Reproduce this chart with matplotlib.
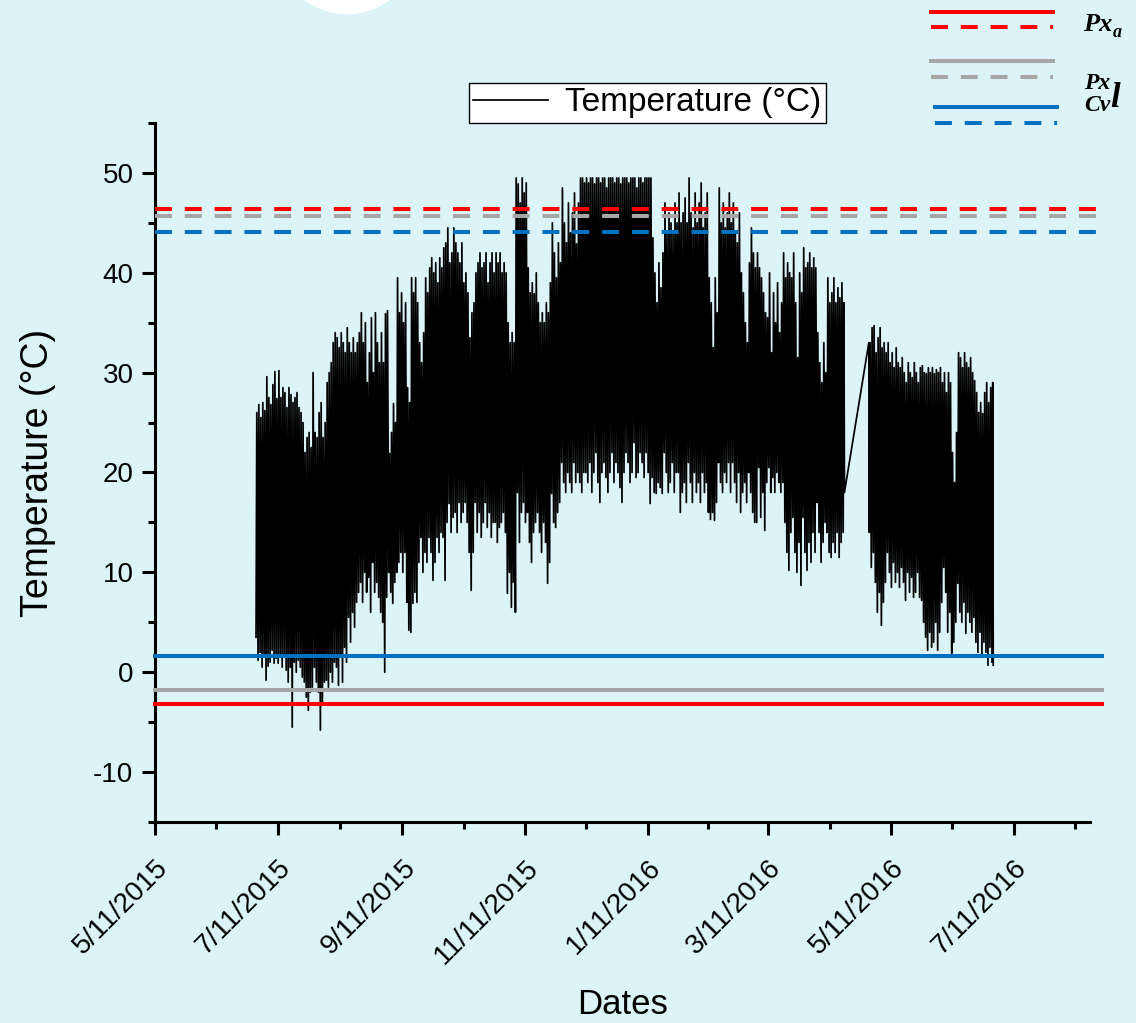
import numpy as np
import matplotlib
matplotlib.use("Agg")
import matplotlib.pyplot as plt
import matplotlib.dates as mdates
from matplotlib.ticker import MultipleLocator, FixedLocator, FuncFormatter
from matplotlib.lines import Line2D
from matplotlib.patches import Circle
from matplotlib.transforms import IdentityTransform

# daily max / min temperature (°C)
# segment 1 starts 2015-06-30, one value per day
seg1_start = np.datetime64("2015-06-30")
hi1 = (
    [26.0, 26.8, 25.5, 27.0, 26.2, 29.6, 27.5, 26.8, 28.8, 30.1, 27.4]  # jun30-jul10
    + [30.2, 27.5, 28.5, 28.0, 26.5, 28.5, 27.8, 27.0, 27.5, 28.0, 26.5, 26.0, 25.0, 22.0, 23.5, 24.0,
       22.5, 30.0, 24.0, 23.5, 26.0, 27.0, 23.5, 25.0, 29.0, 30.0, 31.0, 33.0, 34.0, 33.5, 32.5]
    + [34.0, 33.0, 32.0, 34.5, 33.0, 32.0, 33.5, 32.0, 33.0, 34.0, 36.0, 33.0, 35.0, 29.0, 32.0, 35.5,
       30.0, 36.0, 33.0, 31.0, 34.0, 31.0, 35.9, 36.2, 21.9, 24.0, 26.9, 25.0, 39.5, 36.0, 38.0]
    + [35.0, 37.0, 28.5, 27.0, 39.5, 38.0, 39.5, 37.0, 33.0, 31.0, 34.0, 39.5, 38.0, 40.5, 41.5,
       40.0, 41.0, 39.0, 41.5, 40.5, 42.5, 43.0, 44.5, 41.0, 42.0, 44.5, 43.0, 42.0, 41.0, 43.0]
    + [39.0, 40.0, 38.0, 33.5, 36.0, 37.0, 40.0, 41.0, 42.0, 40.5, 41.0, 42.0, 39.0, 41.0, 42.0, 40.0,
       42.0, 41.0, 42.0, 40.0, 41.0, 40.0, 35.0, 33.0, 34.0, 33.0, 49.5, 48.9, 47.0, 49.5, 48.0]
    + [49.0, 40.5, 38.0, 39.0, 37.9, 40.0, 37.0, 35.0, 36.0, 35.0, 37.0, 36.0, 39.0, 45.0, 42.0,
       39.5, 43.0, 41.0, 48.5, 45.0, 43.0, 47.0, 44.0, 46.0, 48.0, 42.9, 47.0, 49.5, 49.5, 49.0]
    + [49.5, 49.0, 49.5, 49.5, 48.9, 49.5, 49.5, 49.0, 49.5, 49.5, 48.5, 49.5, 49.5, 49.5, 49.0, 49.5,
       49.5, 48.9, 49.5, 49.5, 49.5, 49.0, 49.5, 49.5, 49.5, 48.5, 49.5, 49.5, 49.0, 49.5, 49.5]
    + [49.5, 49.5, 43.5, 40.0, 37.0, 41.0, 38.5, 42.0, 47.0, 44.0, 46.0, 45.0, 44.0, 47.0, 45.0, 48.0,
       45.0, 46.0, 47.5, 45.0, 49.5, 46.0, 44.5, 48.0, 45.0, 47.0, 49.0, 44.5, 46.0, 48.0, 39.5]
    + [37.0, 32.5, 39.5, 36.0, 48.5, 45.0, 47.0, 44.5, 46.0, 48.0, 45.0, 47.0, 44.0, 43.0, 46.0,
       40.0, 38.0, 35.0, 33.0, 41.0, 44.5, 42.0, 40.5, 42.0, 40.5, 39.5, 38.0, 36.0, 35.5]
    + [40.0, 32.0, 38.0, 35.0, 39.0, 34.0, 37.0, 42.0, 39.5, 41.0, 40.0, 39.5, 42.0, 37.0, 31.5, 40.0,
       38.0, 42.5, 40.5, 41.0, 42.0, 40.5, 41.5, 40.5, 34.0, 31.0, 29.0, 33.0, 30.0, 39.5, 37.0]
    + [38.0, 39.5, 37.0, 38.5, 37.5, 39.0, 37.0]  # apr11-apr17
)
lo1 = (
    [3.5, 1.2, 2.0, 0.5, 1.5, -0.8, 0.6, 1.0, 2.2, 0.9, 1.4]
    + [0.9, 1.5, 0.5, 1.8, 0.2, -1.0, 0.5, -5.5, 1.0, 0.0, 1.2, 0.5, -0.5, -1.0, -2.5, -3.8,
       -2.0, -1.5, 0.5, -1.0, -2.0, -5.8, -3.0, -1.0, -0.8, -1.5, 0.0, -1.0, 1.0, 0.5, -1.3]
    + [1.5, -1.0, 2.5, 1.0, 5.5, 3.0, 6.0, 4.5, 7.0, 8.0, 9.0, 7.0, 10.0, 8.0, 9.5, 6.0,
       11.0, 8.0, 9.0, 7.5, 6.0, 5.0, 0.0, 7.5, 10.0, 8.0, 6.9, 9.0, 10.0, 11.0, 12.0]
    + [10.0, 12.0, 7.0, 4.2, 4.0, 6.9, 8.0, 7.0, 11.0, 13.5, 10.0, 12.0, 11.0, 13.5, 12.0,
       9.2, 11.0, 13.5, 12.0, 14.0, 13.5, 9.2, 15.0, 16.9, 14.0, 15.5, 16.0, 14.0, 17.0, 15.0]
    + [16.0, 17.0, 15.0, 12.0, 8.2, 12.0, 17.0, 14.0, 16.0, 13.5, 15.0, 17.0, 14.5, 16.0, 13.5, 15.0,
       15.0, 13.0, 14.5, 15.0, 16.0, 14.0, 7.9, 10.0, 6.5, 9.0, 6.0, 18.0, 13.0, 16.0, 17.0]
    + [15.0, 16.0, 13.0, 11.0, 14.0, 15.0, 16.0, 14.0, 12.0, 15.0, 13.0, 8.9, 11.0, 17.9, 15.0,
       14.5, 16.0, 17.0, 21.0, 19.0, 18.0, 20.0, 19.0, 18.0, 21.0, 19.0, 20.0, 19.0, 18.0, 20.0]
    + [20.0, 19.0, 21.0, 18.0, 20.0, 22.0, 19.0, 17.0, 20.0, 21.0, 19.5, 18.0, 20.0, 22.0, 19.0, 21.0,
       20.0, 18.5, 17.0, 20.0, 22.0, 21.0, 19.0, 20.0, 23.0, 19.5, 20.0, 22.0, 21.0, 19.5, 22.0]
    + [20.0, 16.9, 19.5, 18.0, 17.9, 19.0, 18.5, 17.9, 22.0, 20.0, 18.0, 19.0, 21.0, 18.0, 20.0, 20.0,
       16.0, 18.0, 19.0, 17.0, 21.0, 19.0, 17.0, 20.0, 18.0, 19.0, 17.0, 20.0, 18.0, 19.0, 16.0]
    + [15.3, 16.0, 15.2, 17.0, 21.0, 19.0, 18.0, 20.0, 19.0, 21.0, 18.0, 21.0, 19.0, 17.0, 20.0,
       16.0, 18.0, 19.0, 17.0, 20.0, 18.0, 16.0, 15.0, 15.0, 20.5, 15.5, 18.0, 14.2, 19.0]
    + [20.5, 18.0, 19.5, 18.0, 20.0, 19.0, 18.0, 19.0, 15.0, 12.0, 10.2, 14.0, 15.5, 12.0, 10.0, 13.0,
       8.7, 15.5, 12.0, 10.2, 13.0, 11.0, 14.0, 12.0, 17.0, 14.0, 11.0, 13.0, 15.0, 14.0, 12.0]
    + [11.5, 13.0, 12.0, 14.0, 11.5, 13.0, 14.0]
)
seg1_tail = 18.0

# segment 2 (after the logger gap) starts 2016-04-30
seg2_start = np.datetime64("2016-04-30")
seg2_head = 33.0
hi2 = [33.0, 34.5, 34.7, 32.0, 33.5, 34.5, 32.5, 33.0, 32.0, 33.0, 31.0, 32.0, 30.5, 32.5, 31.0, 30.5,
       31.5, 30.0, 29.0, 31.0, 30.0, 29.5, 31.0, 30.0, 29.0, 30.5, 30.7, 30.0, 29.9, 30.5, 30.0, 30.5,
       29.9, 30.3, 30.0, 30.5, 29.0, 30.0, 28.0, 30.0, 29.0, 22.0, 19.0, 24.0, 32.0, 31.5, 30.5, 32.0,
       31.0, 30.5, 31.5, 30.0, 29.2, 28.0, 26.0, 27.0, 25.9, 28.0, 29.0, 27.0, 28.5, 29.0]
lo2 = [14.0, 10.5, 12.0, 9.0, 6.0, 8.0, 4.7, 7.0, 9.0, 12.0, 10.0, 8.5, 11.0, 9.0, 10.0, 8.5,
       10.5, 9.0, 7.2, 10.0, 8.0, 9.5, 7.5, 8.0, 10.0, 7.5, 7.2, 5.0, 3.5, 2.2, 4.0, 2.5,
       3.0, 5.0, 2.2, 4.0, 7.0, 10.5, 8.0, 4.0, 6.0, 1.9, 3.0, 5.0, 8.9, 6.0, 5.0, 7.0,
       3.9, 6.0, 5.0, 4.0, 5.5, 3.0, 2.0, 4.0, 1.5, 3.0, 2.0, 0.7, 2.5, 1.0]
seg2_tail = 0.7

# limit lines: solid = low limit, dashed = high limit
thr_names = ["Px_a", "Px_l", "Cv_l"]
thr_low = [-3.2, -1.8, 1.6]
thr_high = [46.4, 45.7, 44.1]
thr_colors = ["#FF0000", "#A6A6A6", "#0070C0"]

tick_dates = ["2015-05-11", "2015-07-11", "2015-09-11", "2015-11-11",
              "2016-01-11", "2016-03-11", "2016-05-11", "2016-07-11"]
x_end = "2016-08-18"

bg = "#DCF3F7"


def day_series(start, hi, lo):
    days = start + np.arange(len(hi)).astype("timedelta64[D]")
    t = np.empty(2 * len(hi), dtype="datetime64[h]")
    v = np.empty(2 * len(hi))
    t[0::2] = days + np.timedelta64(6, "h")
    t[1::2] = days + np.timedelta64(15, "h")
    v[0::2] = lo
    v[1::2] = hi
    return t, v


t1, v1 = day_series(seg1_start, hi1, lo1)
t2, v2 = day_series(seg2_start, hi2, lo2)
t_all = np.concatenate([t1, [t1[-1] + np.timedelta64(6, "h")],
                        [np.datetime64(seg2_start, "h")], t2,
                        [t2[-1] + np.timedelta64(6, "h")]])
v_all = np.concatenate([v1, [seg1_tail], [seg2_head], v2, [seg2_tail]])

plt.rcParams["font.family"] = ["Liberation Sans", "DejaVu Sans"]
plt.rcParams["axes.unicode_minus"] = False

W, H = 1136, 1023
fig = plt.figure(figsize=(W / 100, H / 100), dpi=100, facecolor=bg)
ax = fig.add_axes([155 / W, 1 - 822 / H, (1090 - 155) / W, (822 - 123) / H])
ax.set_facecolor(bg)

ax.plot(mdates.date2num(t_all.astype("datetime64[m]").astype(object)), v_all,
        color="black", lw=1.25, label="Temperature (°C)", zorder=2)

for lo, hi, c in zip(thr_low, thr_high, thr_colors):
    ax.axhline(lo, xmin=0, xmax=1.013, color=c, lw=2.9, clip_on=False, zorder=3)
    ax.axhline(hi, xmin=0, xmax=1.013, color=c, lw=2.9, ls=(0, (4.2, 3.2)),
               clip_on=False, zorder=3)

majors = mdates.date2num([np.datetime64(d).astype(object) for d in tick_dates])
minors = list((majors[:-1] + majors[1:]) / 2) + [majors[-1] + 30.5]
ax.set_xlim(majors[0], mdates.date2num(np.datetime64(x_end).astype(object)))
ax.set_ylim(-15, 55)
ax.xaxis.set_major_locator(FixedLocator(majors))
ax.xaxis.set_minor_locator(FixedLocator(minors))
ax.xaxis.set_major_formatter(FuncFormatter(
    lambda x, p: "{}/{}/{}".format(mdates.num2date(x).month, mdates.num2date(x).day,
                                   mdates.num2date(x).year)))
ax.yaxis.set_major_locator(MultipleLocator(10))
ax.yaxis.set_minor_locator(MultipleLocator(5))

for s in ["top", "right"]:
    ax.spines[s].set_visible(False)
for s in ["left", "bottom"]:
    ax.spines[s].set_linewidth(2.2)
ax.tick_params(which="major", length=9.5, width=2.2, labelsize=20, pad=6)
ax.tick_params(axis="x", which="major", pad=14)
ax.tick_params(which="minor", length=4.8, width=2.2)
plt.setp(ax.get_xticklabels(), rotation=45, ha="right", rotation_mode="anchor")

ax.set_ylabel("Temperature (°C)", fontsize=27, labelpad=27)
ax.set_xlabel("Dates", fontsize=25, labelpad=14)

leg = ax.legend(loc="lower right", bbox_to_anchor=((826 - 155) / 935, 1.0),
                borderaxespad=0, fontsize=24, handlelength=2.25, handletextpad=0.5,
                borderpad=0.14, fancybox=False, framealpha=1, edgecolor="black")
leg.get_frame().set_linewidth(1.0)


def fx(x):
    return x / W


def fy(y):
    return 1 - y / H


# limit key in the top-right corner
key_rows = [(12, 27), (61, 77), (107, 123)]
key_x = [(931, 1053), (931, 1053), (935, 1057)]
for (ys, yd), (xa, xb), c in zip(key_rows, key_x, thr_colors):
    fig.add_artist(Line2D([fx(xa), fx(xb)], [fy(ys), fy(ys)], color=c, lw=2.9))
    fig.add_artist(Line2D([fx(xa), fx(xb)], [fy(yd), fy(yd)], color=c, lw=2.9,
                          ls=(0, (4.2, 3.2))))

kf = dict(family=["Liberation Serif", "DejaVu Serif"], weight="bold", style="italic",
          color="black")
fig.text(fx(1083), fy(31), "Px", fontsize=19, **kf)
fig.text(fx(1113), fy(37), "a", fontsize=13, **kf)
fig.text(fx(1084), fy(89), "Px", fontsize=17, **kf)
fig.text(fx(1084), fy(111), "Cv", fontsize=17, **kf)
fig.text(fx(1110), fy(107), "l", fontsize=25, **kf)

# partial logo circle at top (pixel coordinates)
fig.add_artist(Circle((347, H + 57.5), 71.8, transform=IdentityTransform(),
                      facecolor="white", edgecolor="none"))

fig.savefig("out.png", dpi=100, facecolor=bg)
